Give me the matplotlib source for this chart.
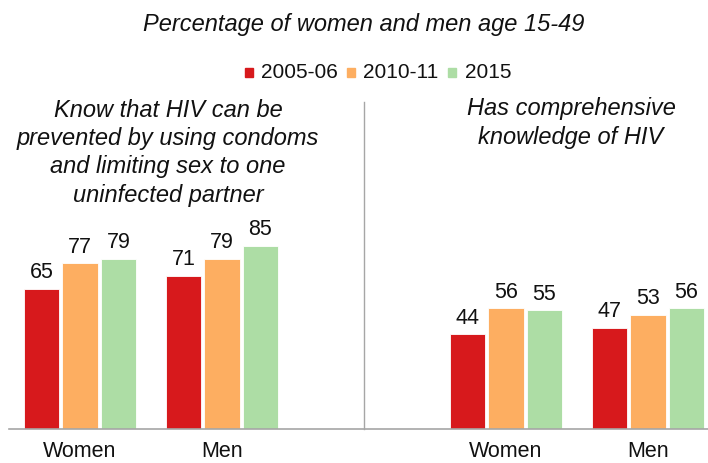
import matplotlib
matplotlib.use("Agg")
import matplotlib.pyplot as plt
from matplotlib.patches import Rectangle
import numpy as np

plt.rcParams["font.family"] = ["Liberation Sans", "DejaVu Sans"]

# survey rounds and their colours
rounds = ["2005-06", "2010-11", "2015"]
colors = ["#D7191C", "#FDAE61", "#ADDDA5"]

groups = ["Women", "Men", "Women", "Men"]
group_pos = [0, 1, 3, 4]

# indicator values per round: [condom/partner W, M, comprehensive W, M]
vals_2005 = [65, 71, 44, 47]
vals_2010 = [77, 79, 56, 53]
vals_2015 = [79, 85, 55, 56]
series = [vals_2005, vals_2010, vals_2015]

W, H = 708, 463
fig = plt.figure(figsize=(W / 100, H / 100), dpi=100)

base_px, top_px = 429, 213.5
ax = fig.add_axes([9 / W, (H - base_px) / H, 1 - 9 / W, (base_px - top_px) / H])
ax.set_xlim(-0.5, (708 - 9) / 142 - 0.5)
ax.set_ylim(0, 100)

bar_w = 0.247
step = 0.271
for i, (vals, col) in enumerate(zip(series, colors)):
    xs = np.array(group_pos) + (i - 1) * step
    bars = ax.bar(xs, vals, width=bar_w, color=col, edgecolor="white", linewidth=0.6)
    for b, v in zip(bars, vals):
        ax.annotate(f"{v}", (b.get_x() + b.get_width() / 2, v), xytext=(0, 4),
                    textcoords="offset points", ha="center", va="bottom",
                    fontsize=15.5, color="#111111")

ax.set_xticks(group_pos)
ax.set_xticklabels(groups, fontsize=15.5, color="#111111")
ax.tick_params(axis="x", length=0, pad=8.5)
ax.set_yticks([])
for side in ["left", "right", "top"]:
    ax.spines[side].set_visible(False)
ax.spines["bottom"].set_color("#A6A6A6")
ax.spines["bottom"].set_linewidth(1.2)

# divider between the two indicators
ax.plot([2, 2], [0, (base_px - 102) / (base_px - top_px) * 100], color="#A6A6A6",
        linewidth=1.0, clip_on=False)


def ftext(x, y, s, **kw):
    fig.text(x / W, 1 - y / H, s, ha="center", va="center", color="#111111", **kw)


ftext(364, 24, "Percentage of women and men age 15-49", fontsize=17, style="italic")

left_lines = ["Know that HIV can be", "prevented by using condoms",
              "and limiting sex to one", "uninfected partner"]
for k, line in enumerate(left_lines):
    ftext(168, 110 + 28.5 * k, line, fontsize=17, style="italic")
right_lines = ["Has comprehensive", "knowledge of HIV"]
for k, line in enumerate(right_lines):
    ftext(571, 108 + 29.5 * k, line, fontsize=17, style="italic")

# legend row
sq_x = [245, 347, 448]
txt_x = [261, 363, 465]
for sx, tx, lab, col in zip(sq_x, txt_x, rounds, colors):
    fig.patches.append(Rectangle((sx / W, 1 - 77 / H), 8 / W, 9 / H,
                                 transform=fig.transFigure, color=col))
    fig.text(tx / W, 1 - 73 / H, lab, ha="left", va="center",
             fontsize=15, color="#111111")

fig.savefig("out.png", dpi=100)
